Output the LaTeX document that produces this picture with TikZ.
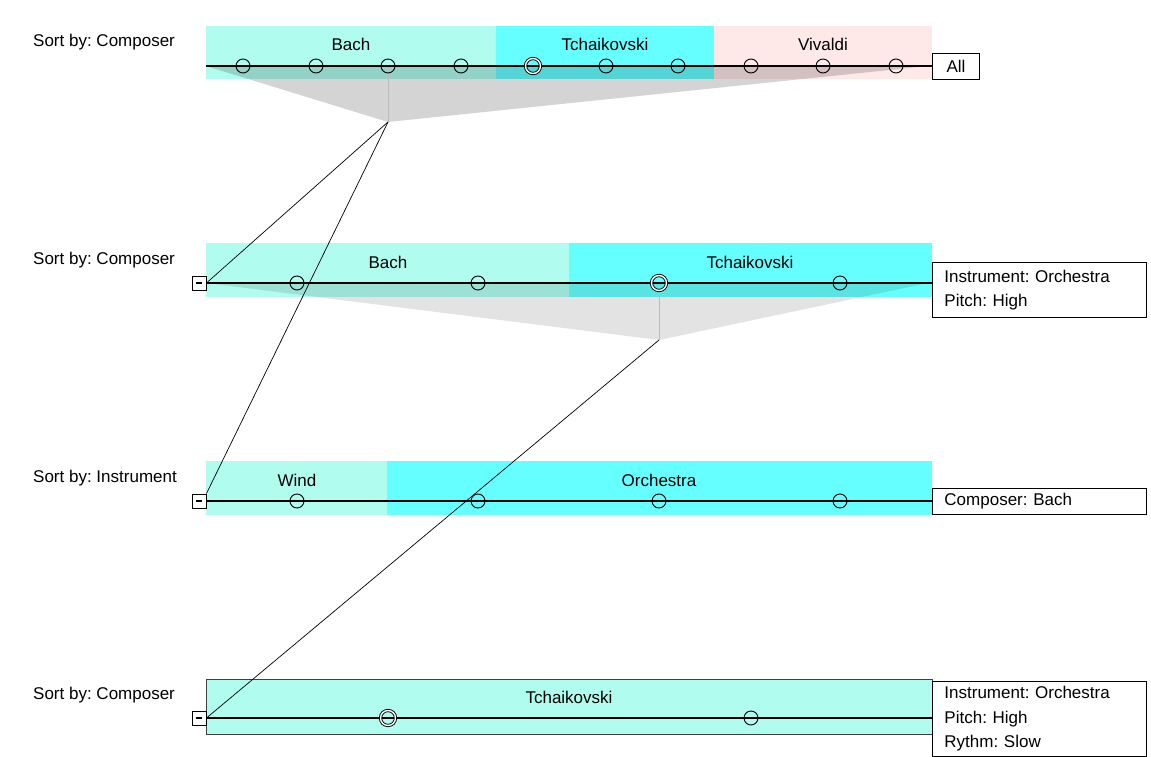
\documentclass[tikz,border=0pt]{standalone}
\usepackage{fontspec}
\setmainfont{Liberation Sans}
\usetikzlibrary{positioning}
\definecolor{bandlight}{RGB}{176,253,240}
\definecolor{bandbright}{RGB}{102,255,255}
\definecolor{bandpink}{RGB}{255,232,232}
\definecolor{funnelline}{RGB}{188,188,188}
\frenchspacing

\begin{document}
\begin{tikzpicture}
[x=1pt,y=-1pt,
every node/.style={font=\fontsize{17}{24.5}\selectfont},
sortlabel/.style={anchor=base west,inner sep=0pt},
bandtext/.style={anchor=base,inner sep=0pt},
item/.style={circle,draw,line width=0.9pt,minimum size=14pt,inner sep=0pt},
picked/.style={item,double,line width=0.9pt,double distance=1.4pt,minimum size=15pt},
collapse/.style={draw,line width=0.9pt,minimum size=14pt,inner sep=0pt,fill=white},
infobox/.style={draw,line width=0.9pt,fill=white,anchor=north west,align=left,
  text width=190pt,inner xsep=12pt,inner ysep=2pt,minimum height=#1},
timeline/.style={line width=1.3pt},
funnel/.style={fill=black,fill opacity=#1},
drop/.style={draw=funnelline,line width=0.8pt},
link/.style={line width=0.7pt}]
\useasboundingbox (0,0) rectangle (1151,757);

% row 1
\fill[bandlight] (206,26) rectangle (496,79);
\fill[bandbright] (496,26) rectangle (714,79);
\fill[bandpink] (714,26) rectangle (932,79);
\node[sortlabel] (sort1) at (33,46.5) {Sort by: Composer};
\node[bandtext] (bach1) at (351,51) {Bach};
\node[bandtext] (tch1) at (605,51) {Tchaikovski};
\node[bandtext] (viv1) at (823,51) {Vivaldi};
\coordinate (s1) at (206,66);
\coordinate (e1) at (928,66);
\coordinate (a1) at (388,122);
\fill[funnel=0.17] (s1) -- (e1) -- (a1) -- cycle;
\node[draw,line width=0.9pt,fill=white,anchor=west,minimum width=47pt,minimum height=26pt,inner sep=0pt] (all) at (932,66) {All};
\draw[drop] (388,66) -- (a1);
\draw[timeline] (s1) -- (all.west);
\foreach \x/\n in {243/1,316/2,388/3,461/4,606/6,678/7,751/8,823/9,896/10}
  \node[item] (c1\n) at (\x,66) {};
\node[picked] (c15) at (533,66) {};

% row 2
\fill[bandlight] (206,243) rectangle (569,297);
\fill[bandbright] (569,243) rectangle (932,297);
\node[sortlabel] (sort2) at (33,264) {Sort by: Composer};
\node[bandtext] (bach2) at (388,268) {Bach};
\node[bandtext] (tch2) at (750,268) {Tchaikovski};
\coordinate (s2) at (206,283);
\coordinate (e2) at (928,283);
\coordinate (a2) at (659,340);
\fill[funnel=0.11] (s2) -- (e2) -- (a2) -- cycle;
\node[collapse] (m2) at (199,283) {\rule{6pt}{1.2pt}};
\node[infobox=55pt] (info2) at (932,262) {Instrument: Orchestra\\Pitch: High};
\draw[drop] (659,283) -- (a2);
\draw[timeline] (m2.east) -- (m2 -| info2.west);
\foreach \x/\n in {297/1,478/2,840/4}
  \node[item] (c2\n) at (\x,283) {};
\node[picked] (c23) at (659,283) {};

% row 3
\fill[bandlight] (206,461) rectangle (387,515);
\fill[bandbright] (387,461) rectangle (932,515);
\node[sortlabel] (sort3) at (33,482) {Sort by: Instrument};
\node[bandtext] (wind3) at (297,486) {Wind};
\node[bandtext] (orch3) at (659,486) {Orchestra};
\node[collapse] (m3) at (199,501) {\rule{6pt}{1.2pt}};
\node[infobox=26pt] (info3) at (932,488) {Composer: Bach};
\draw[timeline] (m3.east) -- (m3 -| info3.west);
\foreach \x/\n in {297/1,478/2,659/3,840/4}
  \node[item] (c3\n) at (\x,501) {};

% row 4
\filldraw[fill=bandlight,draw=black!75,line width=0.9pt] (206,679) rectangle (932,734);
\node[sortlabel] (sort4) at (33,699.5) {Sort by: Composer};
\node[bandtext] (tch4) at (569,703) {Tchaikovski};
\node[collapse] (m4) at (199,718) {\rule{6pt}{1.2pt}};
\node[infobox=75pt] (info4) at (932,681) {Instrument: Orchestra\\Pitch: High\\Rythm: Slow};
\draw[timeline] (m4.east) -- (m4 -| info4.west);
\node[picked] (c41) at (388,718) {};
\node[item] (c42) at (751,718) {};

% links between rows
\draw[link] (a1) -- (m2.east);
\draw[link] (a1) -- (m3.north east);
\draw[link] (a2) -- (m4.east);
\end{tikzpicture}
\end{document}
